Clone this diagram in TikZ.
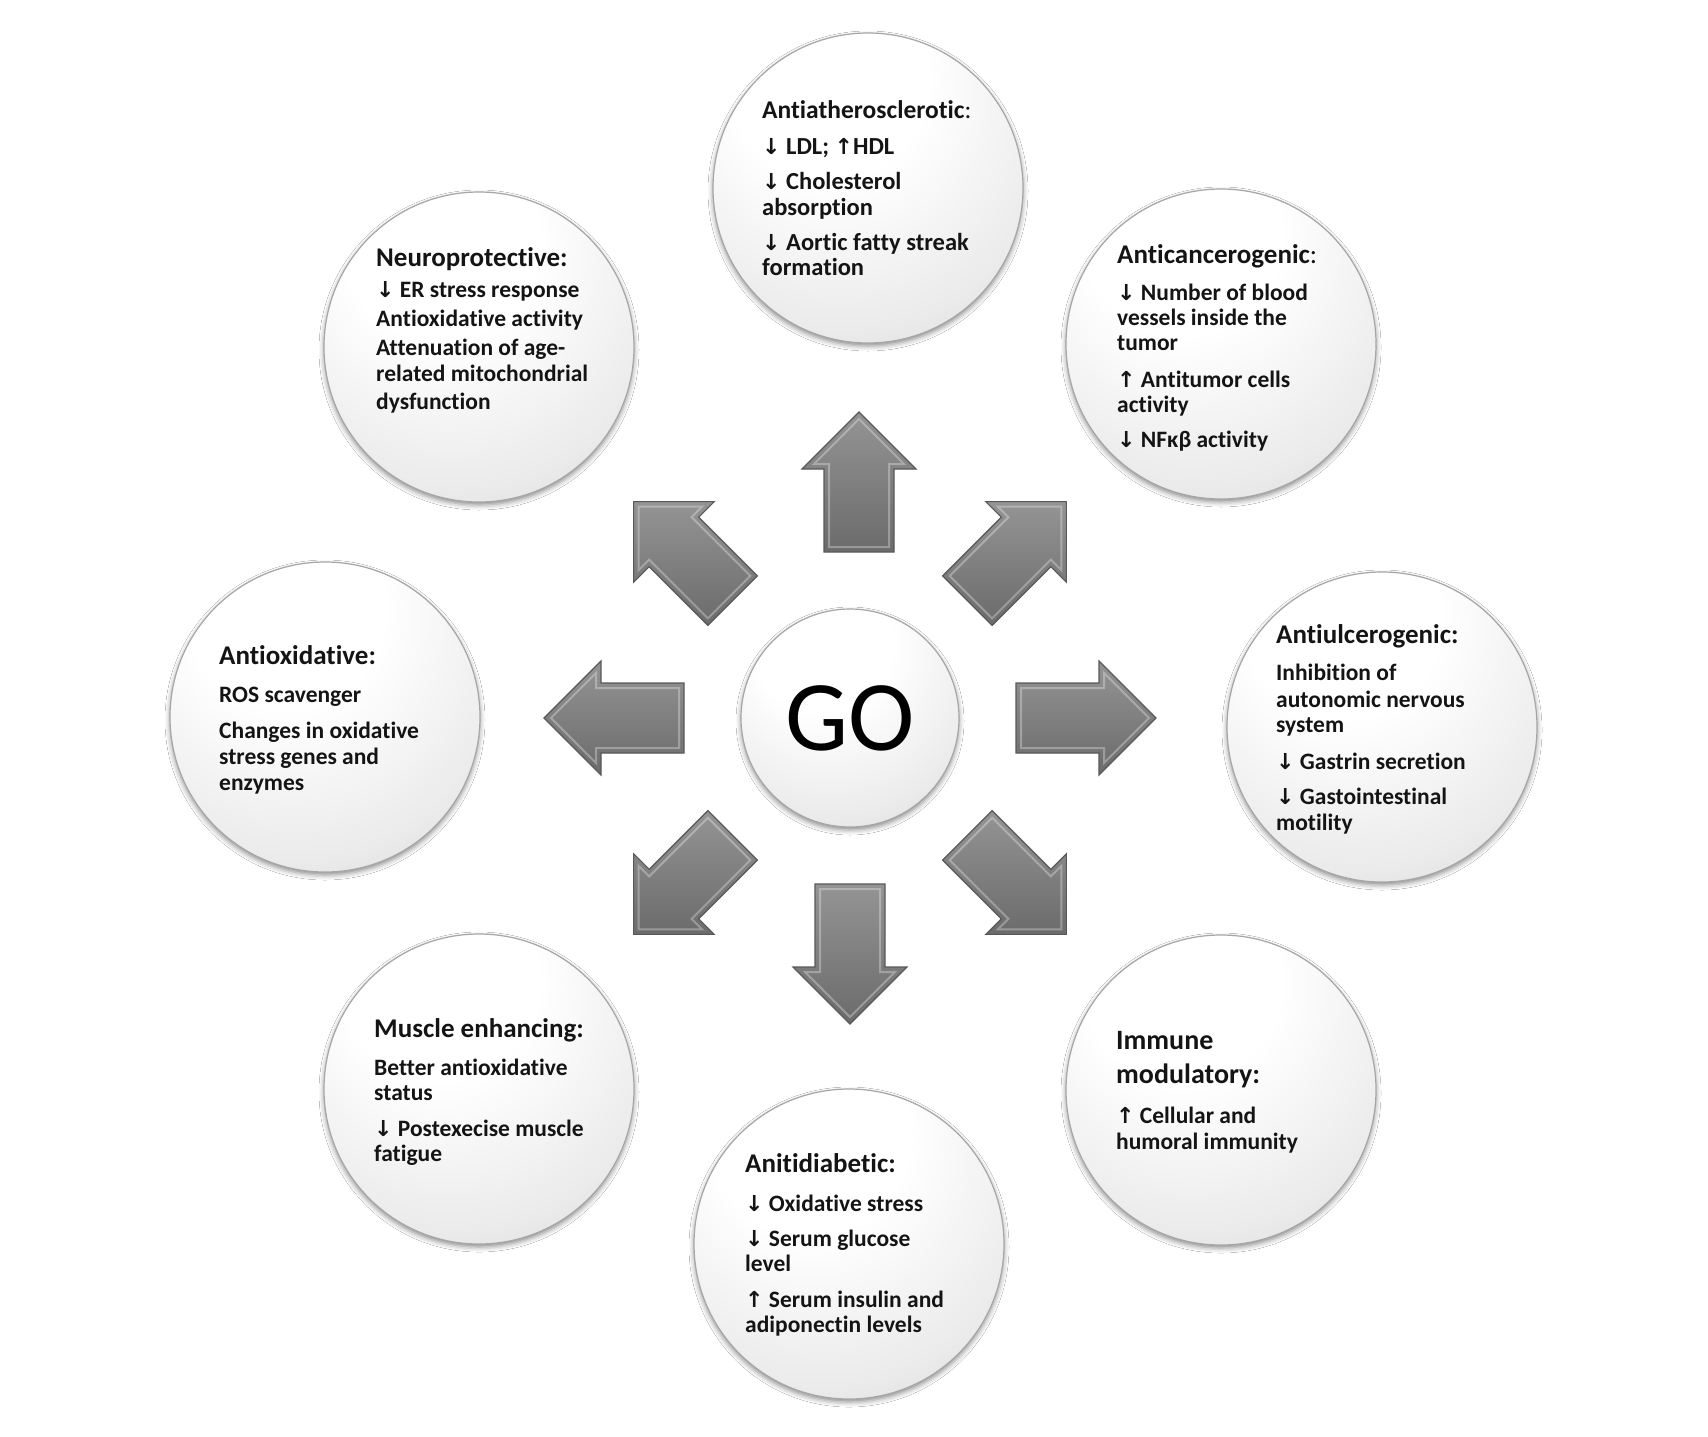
\documentclass[tikz,border=0pt]{standalone}
\usepackage{fontspec}
\setmainfont{Carlito}[Ligatures=NoCommon, RawFeature=-calt]
\newfontfamily\symf{DejaVu Sans}
\usetikzlibrary{shadows.blur}
\pgfdeclareradialshading{discshade}{\pgfpoint{-8bp}{22bp}}{color(0bp)=(white); color(16bp)=(white); color(35bp)=(black!8); color(50bp)=(black!19); color(64bp)=(black!29); color(76bp)=(black!37)}
\newcommand\dnarr{{\symf\fontsize{22}{22}\selectfont ↓}}
\newcommand\uparr{{\symf\fontsize{22}{22}\selectfont ↑}}
\tikzset{
  disc/.style={circle, draw=black!35, line width=1.2pt, shade, shading=discshade,
    blur shadow={shadow xshift=0pt, shadow yshift=-3pt, shadow blur radius=5pt, shadow opacity=45},
    inner sep=0pt},
  body/.style={anchor=base west, inner sep=0pt, text=black!92, font=\bfseries\fontsize{23.5}{25}\selectfont},
  ttl/.style={body, font=\bfseries\fontsize{27}{30}\selectfont},
  arrowbody/.style={top color=black!42, bottom color=black!58, draw=black!65, line width=1.2pt},
  bevel/.style={draw=white, draw opacity=0.3, line width=2pt},
}
\newcommand\blockarrow[2]{%
  \begin{scope}[shift={#1}, rotate=#2]
    \path[arrowbody] (166,35) -- (249,35) -- (249,57) -- (306,0) -- (249,-57) -- (249,-35) -- (166,-35) -- cycle;
    \path[bevel] (171,30) -- (254,30) -- (254,45) -- (299,0) -- (254,-45) -- (254,-30) -- (171,-30) -- cycle;
  \end{scope}}
\begin{document}
\begin{tikzpicture}[x=1pt, y=-1pt]
\useasboundingbox (0,0) rectangle (1708,1436);
\fill[white] (0,0) rectangle (1708,1436);

% circles
\node[disc, minimum size=310] (c1) at (868,188) {};
\node[disc, minimum size=310] (c2) at (1221,344) {};
\node[disc, minimum size=310] (c3) at (1382,727) {};
\node[disc, minimum size=310] (c4) at (1221,1090) {};
\node[disc, minimum size=310] (c5) at (849,1244) {};
\node[disc, minimum size=310] (c6) at (479,1089) {};
\node[disc, minimum size=310] (c7) at (325,717) {};
\node[disc, minimum size=310] (c8) at (479,347) {};
\node[disc, minimum size=218, font=\fontsize{100}{100}\selectfont] (go) at (850,718) {GO};

% block arrows
\blockarrow{(go.center)}{0}
\blockarrow{(go.center)}{45}
\blockarrow{(859,718)}{90}
\blockarrow{(go.center)}{135}
\blockarrow{(go.center)}{180}
\blockarrow{(go.center)}{225}
\blockarrow{(go.center)}{270}
\blockarrow{(go.center)}{315}

% Antiatherosclerotic
\node[ttl, font=\bfseries\fontsize{25.5}{28}\selectfont] (t1a) at (762,118) {Antiatherosclerotic\textmd{:}};
\node[body, font=\bfseries\fontsize{24.5}{26}\selectfont] (t1b) at (762,154) {\dnarr\ LDL; \uparr HDL};
\node[body, font=\bfseries\fontsize{24.5}{26}\selectfont] (t1c) at (762,189) {\dnarr\ Cholesterol};
\node[body, font=\bfseries\fontsize{24.5}{26}\selectfont] (t1d) at (762,215) {absorption};
\node[body, font=\bfseries\fontsize{24.5}{26}\selectfont] (t1e) at (762,250) {\dnarr\ Aortic fatty streak};
\node[body, font=\bfseries\fontsize{24.5}{26}\selectfont] (t1f) at (762,275) {formation};

% Anticancerogenic
\node[ttl] (t2a) at (1117,263) {Anticancerogenic\textmd{:}};
\node[body] (t2b) at (1117,300) {\dnarr\ Number of blood};
\node[body] (t2c) at (1117,325) {vessels inside the};
\node[body] (t2d) at (1117,350) {tumor};
\node[body] (t2e) at (1117,387) {\uparr\ Antitumor cells};
\node[body] (t2f) at (1117,412) {activity};
\node[body] (t2g) at (1117,447) {\dnarr\ NFκβ activity};

% Antiulcerogenic
\node[ttl] (t3a) at (1276,643) {Antiulcerogenic:};
\node[body] (t3b) at (1276,680) {Inhibition of};
\node[body] (t3c) at (1276,707) {autonomic nervous};
\node[body] (t3d) at (1276,732) {system};
\node[body] (t3e) at (1276,769) {\dnarr\ Gastrin secretion};
\node[body] (t3f) at (1276,804) {\dnarr\ Gastointestinal};
\node[body] (t3g) at (1276,830) {motility};

% Immune modulatory
\node[ttl, font=\bfseries\fontsize{28}{30}\selectfont] (t4a) at (1116,1049) {Immune};
\node[ttl, font=\bfseries\fontsize{28}{30}\selectfont] (t4b) at (1116,1083) {modulatory:};
\node[body] (t4c) at (1116,1123) {\uparr\ Cellular and};
\node[body] (t4d) at (1116,1149) {humoral immunity};

% Anitidiabetic
\node[ttl] (t5a) at (745,1172) {Anitidiabetic:};
\node[body] (t5b) at (745,1211) {\dnarr\ Oxidative stress};
\node[body] (t5c) at (745,1246) {\dnarr\ Serum glucose};
\node[body] (t5d) at (745,1271) {level};
\node[body] (t5e) at (745,1307) {\uparr\ Serum insulin and};
\node[body] (t5f) at (745,1332) {adiponectin levels};

% Muscle enhancing
\node[ttl] (t6a) at (374,1037) {Muscle enhancing:};
\node[body] (t6b) at (374,1075) {Better antioxidative};
\node[body] (t6c) at (374,1100) {status};
\node[body] (t6d) at (374,1136) {\dnarr\ Postexecise muscle};
\node[body] (t6e) at (374,1161) {fatigue};

% Antioxidative
\node[ttl] (t7a) at (219,664) {Antioxidative:};
\node[body] (t7b) at (219,702) {ROS scavenger};
\node[body] (t7c) at (219,738) {Changes in oxidative};
\node[body] (t7d) at (219,764) {stress genes and};
\node[body] (t7e) at (219,790) {enzymes};

% Neuroprotective
\node[ttl] (t8a) at (376,266) {Neuroprotective:};
\node[body] (t8b) at (376,297) {\dnarr\ ER stress response};
\node[body] (t8c) at (376,326) {Antioxidative activity};
\node[body] (t8d) at (376,355) {Attenuation of age-};
\node[body] (t8e) at (376,381) {related mitochondrial};
\node[body] (t8f) at (376,409) {dysfunction};
\end{tikzpicture}
\end{document}
